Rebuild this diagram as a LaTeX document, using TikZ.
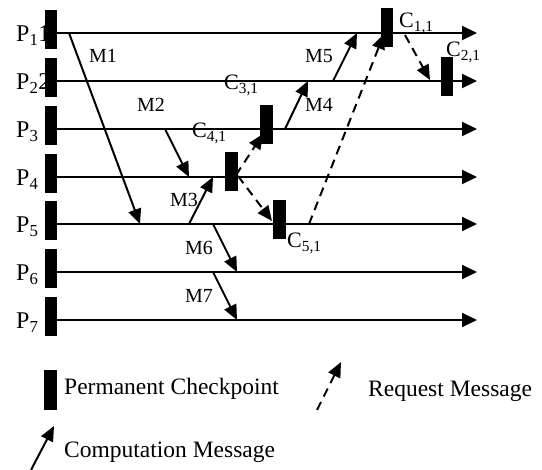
\documentclass[tikz,border=0pt]{standalone}
\usepackage{fontspec}
\setmainfont{Liberation Serif}
\usetikzlibrary{arrows.meta}
\tikzset{proc/.style={line width=2pt,-{Triangle[length=15pt,width=14pt]}}}
\tikzset{comp/.style={line width=2pt,-{Triangle[length=15pt,width=13pt]}}}
\tikzset{req/.style={line width=2pt,dash pattern=on 9pt off 6pt,-{Triangle[length=15pt,width=13pt]}}}
\tikzset{ckpt/.style={fill=black,inner sep=0pt,minimum width=12.5pt,minimum height=39pt}}
\tikzset{plbl/.style={inner sep=0pt,font=\fontsize{24}{28}\selectfont}}
\tikzset{kbl/.style={inner sep=0pt,font=\fontsize{23.5}{28}\selectfont}}
\tikzset{clbl/.style={inner sep=0pt,font=\fontsize{22}{26}\selectfont}}
\tikzset{mlbl/.style={inner sep=0pt,font=\fontsize{20}{24}\selectfont}}

\begin{document}
\begin{tikzpicture}[x=1pt,y=-1pt]
        \useasboundingbox (0,0) rectangle (542,470);
        % process names
        \foreach \i/\y in {1/33,2/81,3/129,4/177,5/224,6/272,7/320}{
            \node[plbl,anchor=base west] (p\i) at (16,\y+8.5) {P\textsubscript{\i}\ifnum\i<3 \i\fi};
        }
        % checkpoint and message labels
        \node[clbl,anchor=base west] (l11) at (399,28) {C\textsubscript{1,1}};
        \node[clbl,anchor=base west] (l21) at (446,57) {C\textsubscript{2,1}};
        \node[clbl,anchor=base west] (l31) at (224,90) {C\textsubscript{3,1}};
        \node[clbl,anchor=base west] (l41) at (192,138) {C\textsubscript{4,1}};
        \node[clbl,anchor=base west] (l51) at (287,248) {C\textsubscript{5,1}};
        \node[mlbl,anchor=base west] (n1) at (89,63) {M1};
        \node[mlbl,anchor=base west] (n2) at (137,112) {M2};
        \node[mlbl,anchor=base west] (n3) at (170,207) {M3};
        \node[mlbl,anchor=base west] (n4) at (305,112) {M4};
        \node[mlbl,anchor=base west] (n5) at (305,63) {M5};
        \node[mlbl,anchor=base west] (n6) at (185,255) {M6};
        \node[mlbl,anchor=base west] (n7) at (185,303) {M7};
        % process lines
        \foreach \i/\y in {1/33,2/81,3/129,4/177,5/224,6/272,7/320}{
            \coordinate (e\i) at (477,\y);
            \node[ckpt] (s\i) at (51,\y-3.5) {};
            \draw[proc] (s\i.center |- e\i) -- (e\i);
            \node[ckpt] at (s\i) {};
        }
        % computation messages
        \foreach \n/\xa/\ya/\xb/\yb in {1/69/33/140/224,2/165/129/189/177,3/189/224/213/177,4/285/129/308/81,5/333/81/357/33,6/213/224/237/272,7/213/272/237/320}{
            \coordinate (m\n a) at (\xa,\ya);
            \coordinate (m\n b) at (\xb,\yb);
            \draw[comp] (m\n a) -- (m\n b);
        }
        % request messages
        \coordinate (r1a) at (236,175);
        \coordinate (r1b) at (263,134);
        \coordinate (r2a) at (238,176);
        \coordinate (r2b) at (272,221);
        \coordinate (r3a) at (309,224);
        \coordinate (r3b) at (384,34);
        \coordinate (r4a) at (405,35);
        \coordinate (r4b) at (430,80);
        \draw[req] (r1a) -- (r1b);
        \draw[req] (r2a) -- (r2b);
        \draw[req] (r3a) -- (r3b);
        \draw[req] (r4a) -- (r4b);
        % permanent checkpoints
        \node[ckpt] (c11) at (387,28) {};
        \node[ckpt] (c21) at (447,76.5) {};
        \node[ckpt] (c31) at (266.5,124.5) {};
        \node[ckpt] (c41) at (231.5,172) {};
        \node[ckpt] (c51) at (279.5,220) {};
        % legend
        \node[ckpt,minimum height=40pt] (k) at (50.5,390) {};
        \node[kbl,anchor=base west] (kt) at (64,395) {Permanent Checkpoint};
        \coordinate (ca) at (31,470);
        \coordinate (cb) at (54,426);
        \draw[comp] (ca) -- (cb);
        \node[kbl,anchor=base west] (ct) at (64,458) {Computation Message};
        \coordinate (qa) at (317,410);
        \coordinate (qb) at (341,362);
        \draw[req] (qa) -- (qb);
        \node[kbl,anchor=base west] (qt) at (368,397) {Request Message};
\end{tikzpicture}
\end{document}
